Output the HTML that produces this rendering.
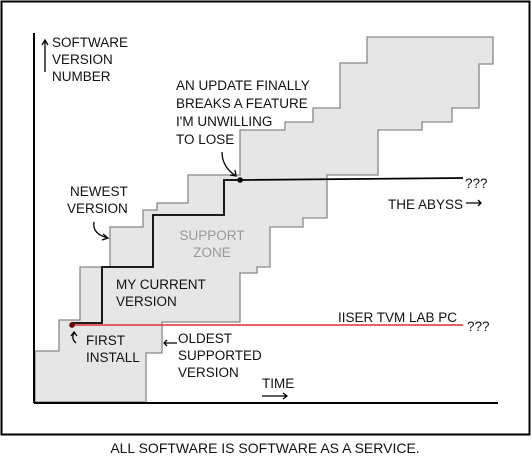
<!DOCTYPE html>
<html><head><meta charset="utf-8"><style>
html,body{margin:0;padding:0;background:#fff;}
svg{display:block;}
text{font-family:"Liberation Sans",sans-serif;font-size:13.5px;fill:#111;}
</style></head><body>
<svg width="531" height="460" viewBox="0 0 531 460" xmlns="http://www.w3.org/2000/svg">
<rect x="1.5" y="1.5" width="528" height="433" fill="#fff" stroke="#000" stroke-width="2"/>
<polygon points="35,351 59,351 59,320 80,320 80,267 110,267 110,227 143,227 143,210 157,210 157,203 188,203 188,175 240,175 240,130 285,130 285,122 313,122 313,108 340,108 340,63 367,63 367,37 493,37 493,64 479,64 479,108 452,108 452,122 422,122 422,130 378,130 378,175 327,175 327,218 303,218 303,227 270,227 270,267 257,267 257,273 240,273 240,322 162,322 162,353 146,353 146,402 35,402" fill="#e6e6e6" stroke="#888" stroke-width="1.3"/>
<line x1="34" y1="33" x2="34" y2="403" stroke="#000" stroke-width="2"/>
<line x1="34" y1="403" x2="498" y2="403" stroke="#000" stroke-width="2"/>
<polyline points="72,325 72,323 102,323 102,267 153,267 153,215 224,215 224,180 240,180 463,178" fill="none" stroke="#000" stroke-width="1.8"/>
<line x1="72" y1="325" x2="463" y2="325" stroke="#e03030" stroke-width="1.4"/>
<circle cx="240" cy="180" r="2.8" fill="#000"/>
<circle cx="72" cy="325" r="2.8" fill="#600"/>
<!-- arrows -->
<g fill="none" stroke="#000" stroke-width="1.3">
<path d="M45,72 V41 M42,45 L45,40 48,45"/>
<path d="M222,152 q0,15 14,24 M230,175 l6,1 -1,-6"/>
<path d="M94,222 q-2,12 14,16 M103,234 l5,4 -6,2"/>
<path d="M76,343 q-5,-4 -2,-10 M71,336 l3,-4 3,4"/>
<path d="M177,343 H164 M167,340 l-3,3 3,3"/>
<path d="M262,396 H287 M283,393 l4,3 -4,3"/>
<path d="M466,203 H481 M478,200 l3,3 -3,3"/>
</g>
<text x="52" y="47">SOFTWARE</text>
<text x="52" y="64">VERSION</text>
<text x="52" y="81">NUMBER</text>
<text x="176" y="90">AN UPDATE FINALLY</text>
<text x="176" y="108">BREAKS A FEATURE</text>
<text x="176" y="126">I'M UNWILLING</text>
<text x="176" y="144">TO LOSE</text>
<text x="70" y="196">NEWEST</text>
<text x="67" y="213">VERSION</text>
<text x="212" y="240" text-anchor="middle" style="fill:#999">SUPPORT</text>
<text x="212" y="257" text-anchor="middle" style="fill:#999">ZONE</text>
<text x="116" y="289">MY CURRENT</text>
<text x="116" y="306">VERSION</text>
<text x="86" y="345">FIRST</text>
<text x="86" y="362">INSTALL</text>
<text x="178" y="343">OLDEST</text>
<text x="178" y="360">SUPPORTED</text>
<text x="178" y="377">VERSION</text>
<text x="262" y="388">TIME</text>
<text x="388" y="209">THE ABYSS</text>
<text x="338" y="322">IISER TVM LAB PC</text>
<text x="465" y="188">???</text>
<text x="467" y="331">???</text>
<text x="265" y="453" text-anchor="middle" style="font-size:14px">ALL SOFTWARE IS SOFTWARE AS A SERVICE.</text>
</svg>
</body></html>
